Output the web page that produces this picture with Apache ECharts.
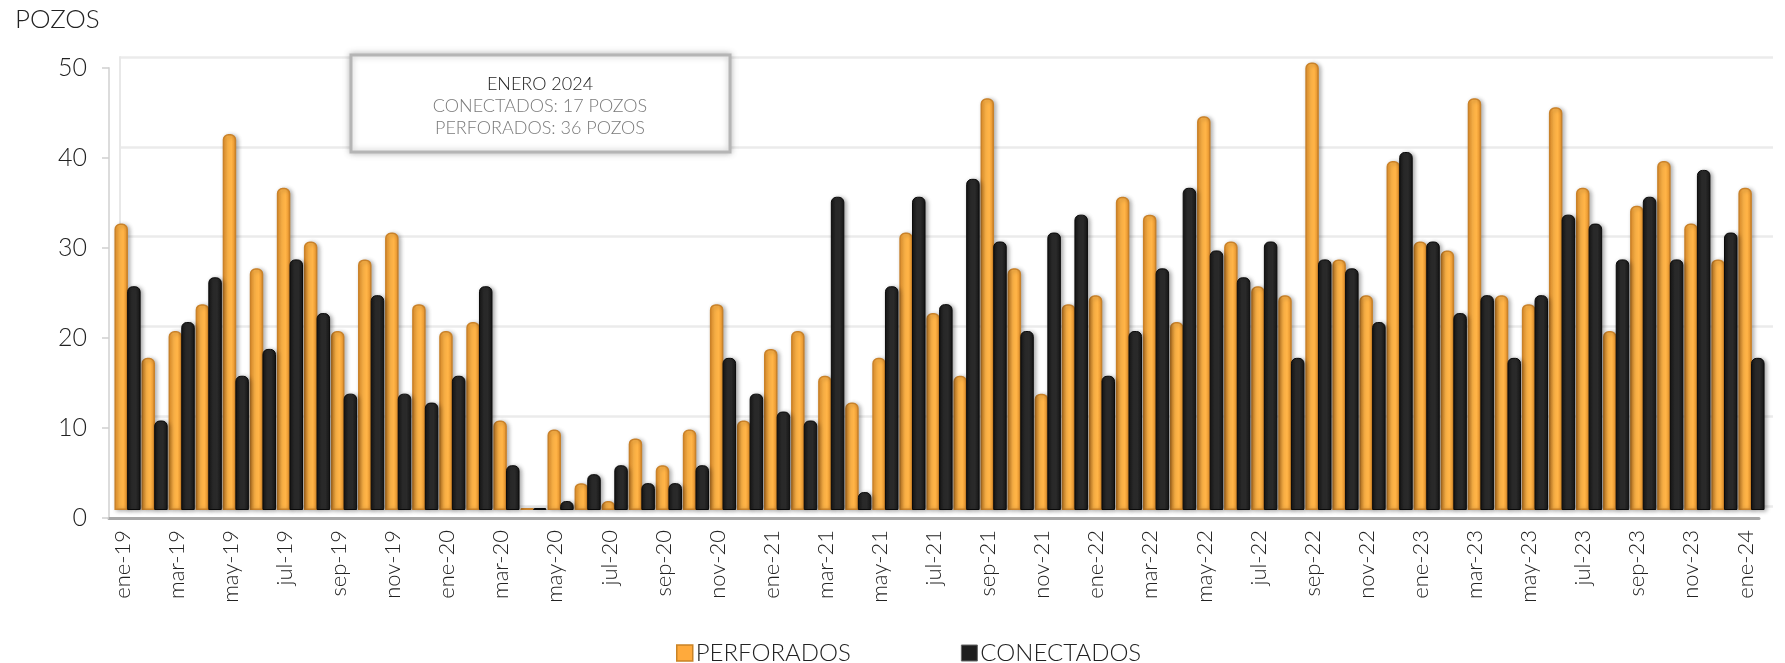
<!DOCTYPE html>
<html>
<head>
<meta charset="utf-8">
<title>Pozos perforados y conectados</title>
<script src="https://cdn.jsdelivr.net/npm/echarts@6/dist/echarts.min.js"></script>
<style>
  html, body { margin: 0; padding: 0; background: #fff; }
  #chart { width: 1785px; height: 663px; }
</style>
</head>
<body>
<div id="chart"></div>
<script>
// Months, ene-19 .. ene-24
const months = [
  'ene-19', 'feb-19', 'mar-19', 'abr-19', 'may-19', 'jun-19', 'jul-19', 'ago-19', 'sep-19', 'oct-19', 'nov-19', 'dic-19',
  'ene-20', 'feb-20', 'mar-20', 'abr-20', 'may-20', 'jun-20', 'jul-20', 'ago-20', 'sep-20', 'oct-20', 'nov-20', 'dic-20',
  'ene-21', 'feb-21', 'mar-21', 'abr-21', 'may-21', 'jun-21', 'jul-21', 'ago-21', 'sep-21', 'oct-21', 'nov-21', 'dic-21',
  'ene-22', 'feb-22', 'mar-22', 'abr-22', 'may-22', 'jun-22', 'jul-22', 'ago-22', 'sep-22', 'oct-22', 'nov-22', 'dic-22',
  'ene-23', 'feb-23', 'mar-23', 'abr-23', 'may-23', 'jun-23', 'jul-23', 'ago-23', 'sep-23', 'oct-23', 'nov-23', 'dic-23',
  'ene-24'
];

const perforados = [
  32, 17, 20, 23, 42, 27, 36, 30, 20, 28, 31, 23,
  20, 21, 10, 0, 9, 3, 1, 8, 5, 9, 23, 10,
  18, 20, 15, 12, 17, 31, 22, 15, 46, 27, 13, 23,
  24, 35, 33, 21, 44, 30, 25, 24, 50, 28, 24, 39,
  30, 29, 46, 24, 23, 45, 36, 20, 34, 39, 32, 28,
  36
];

const conectados = [
  25, 10, 21, 26, 15, 18, 28, 22, 13, 24, 13, 12,
  15, 25, 5, 0, 1, 4, 5, 3, 3, 5, 17, 13,
  11, 10, 35, 2, 25, 35, 23, 37, 30, 20, 31, 33,
  15, 20, 27, 36, 29, 26, 30, 17, 28, 27, 21, 40,
  30, 22, 24, 17, 24, 33, 32, 28, 35, 28, 38, 31,
  17
];

const yTicks = { min: 0, max: 50, interval: 10 };

const FONT = 'Lato, "Open Sans", sans-serif';

const chart = echarts.init(document.getElementById('chart'));

// cylinder-ish shading across the bar
function barFill(edge, mid) {
  return new echarts.graphic.LinearGradient(0, 0, 1, 0, [
    { offset: 0, color: edge },
    { offset: 0.35, color: mid },
    { offset: 0.65, color: mid },
    { offset: 1, color: edge }
  ]);
}

const last = months.length - 1;

const option = {
  animation: false,
  backgroundColor: '#fff',
  title: {
    text: 'POZOS',
    left: 10,
    top: 2,
    textStyle: { fontFamily: FONT, fontSize: 26, fontWeight: 300, color: '#222' }
  },
  legend: {
    left: 676,
    top: 641,
    padding: 0,
    itemWidth: 16,
    itemHeight: 16,
    itemGap: 110,
    icon: 'rect',
    textStyle: { fontFamily: FONT, fontSize: 24, fontWeight: 300, color: '#222', padding: [0, 0, 0, -2] },
    data: [
      { name: 'PERFORADOS', itemStyle: { color: '#FFAA3C', borderColor: '#C98326', borderWidth: 1.5 } },
      { name: 'CONECTADOS', itemStyle: { color: '#1e1e1e', borderColor: '#666', borderWidth: 1 } }
    ]
  },
  // 0: back wall, 1: bars, 2: front axes
  grid: [
    { left: 120, right: 12, top: 57, bottom: 157 },
    { left: 114, right: 20, top: 62.5, bottom: 153 },
    { left: 109, right: 26, top: 68, bottom: 145 }
  ],
  xAxis: [
    { type: 'category', gridIndex: 0, data: months, show: false },
    { type: 'category', gridIndex: 1, data: months, show: false },
    {
      type: 'category',
      gridIndex: 2,
      data: months,
      axisLine: { lineStyle: { color: '#a8a8a8', width: 3 } },
      axisTick: { interval: 1, length: 6, lineStyle: { color: '#9a9a9a', width: 1.5 } },
      axisLabel: {
        interval: 1,
        rotate: 90,
        margin: 12,
        fontFamily: FONT,
        fontSize: 22,
        fontWeight: 300,
        color: '#222'
      }
    }
  ],
  yAxis: [
    {
      type: 'value', gridIndex: 0, ...yTicks,
      axisLabel: { show: false },
      axisTick: { show: false },
      axisLine: { show: true, lineStyle: { color: '#e8e8e8', width: 2 } },
      splitLine: { lineStyle: { color: '#ebebeb', width: 2.5 } }
    },
    { type: 'value', gridIndex: 1, ...yTicks, show: false, splitLine: { show: false } },
    {
      type: 'value', gridIndex: 2, ...yTicks,
      axisLine: { show: true, lineStyle: { color: '#dcdcdc', width: 2 } },
      axisTick: { show: true, length: 7, lineStyle: { color: '#cfcfcf', width: 1.5 } },
      splitLine: { show: false },
      axisLabel: { margin: 22, fontFamily: FONT, fontSize: 25, fontWeight: 300, color: '#222' }
    }
  ],
  series: [
    {
      name: 'PERFORADOS',
      type: 'bar',
      xAxisIndex: 1,
      yAxisIndex: 1,
      data: perforados,
      barWidth: 13.5,
      barGap: '-6%',
      barMinHeight: 2,
      itemStyle: {
        color: barFill('#E8922A', '#FFB447'),
        borderColor: '#C9822A',
        borderWidth: 1.5,
        borderRadius: [5, 5, 0, 0],
        shadowColor: 'rgba(0,0,0,0.3)',
        shadowBlur: 4,
        shadowOffsetX: 2,
        shadowOffsetY: 1
      }
    },
    {
      name: 'CONECTADOS',
      type: 'bar',
      xAxisIndex: 1,
      yAxisIndex: 1,
      data: conectados,
      barWidth: 13.5,
      barMinHeight: 2,
      itemStyle: {
        color: barFill('#151515', '#2a2a2a'),
        borderColor: '#0a0a0a',
        borderWidth: 1,
        borderRadius: [5, 5, 0, 0],
        shadowColor: 'rgba(0,0,0,0.35)',
        shadowBlur: 4,
        shadowOffsetX: 2,
        shadowOffsetY: 1
      }
    }
  ],
  // static callout for the latest month
  graphic: [
    {
      type: 'rect',
      shape: { x: 351, y: 55, width: 379, height: 97 },
      style: {
        fill: '#fff',
        stroke: '#b5b5b5',
        lineWidth: 3,
        shadowBlur: 6,
        shadowColor: 'rgba(0,0,0,0.25)'
      },
      z: 100
    },
    {
      type: 'text',
      x: 540, y: 84, z: 101,
      style: { text: 'ENERO 2024', align: 'center', verticalAlign: 'middle', font: '300 18px ' + FONT, fill: '#222' }
    },
    {
      type: 'text',
      x: 540, y: 106, z: 101,
      style: { text: 'CONECTADOS: ' + conectados[last] + ' POZOS', align: 'center', verticalAlign: 'middle', font: '300 18px ' + FONT, fill: '#7a7a7a' }
    },
    {
      type: 'text',
      x: 540, y: 128, z: 101,
      style: { text: 'PERFORADOS: ' + perforados[last] + ' POZOS', align: 'center', verticalAlign: 'middle', font: '300 18px ' + FONT, fill: '#7a7a7a' }
    }
  ]
};

chart.setOption(option);
</script>
</body>
</html>
